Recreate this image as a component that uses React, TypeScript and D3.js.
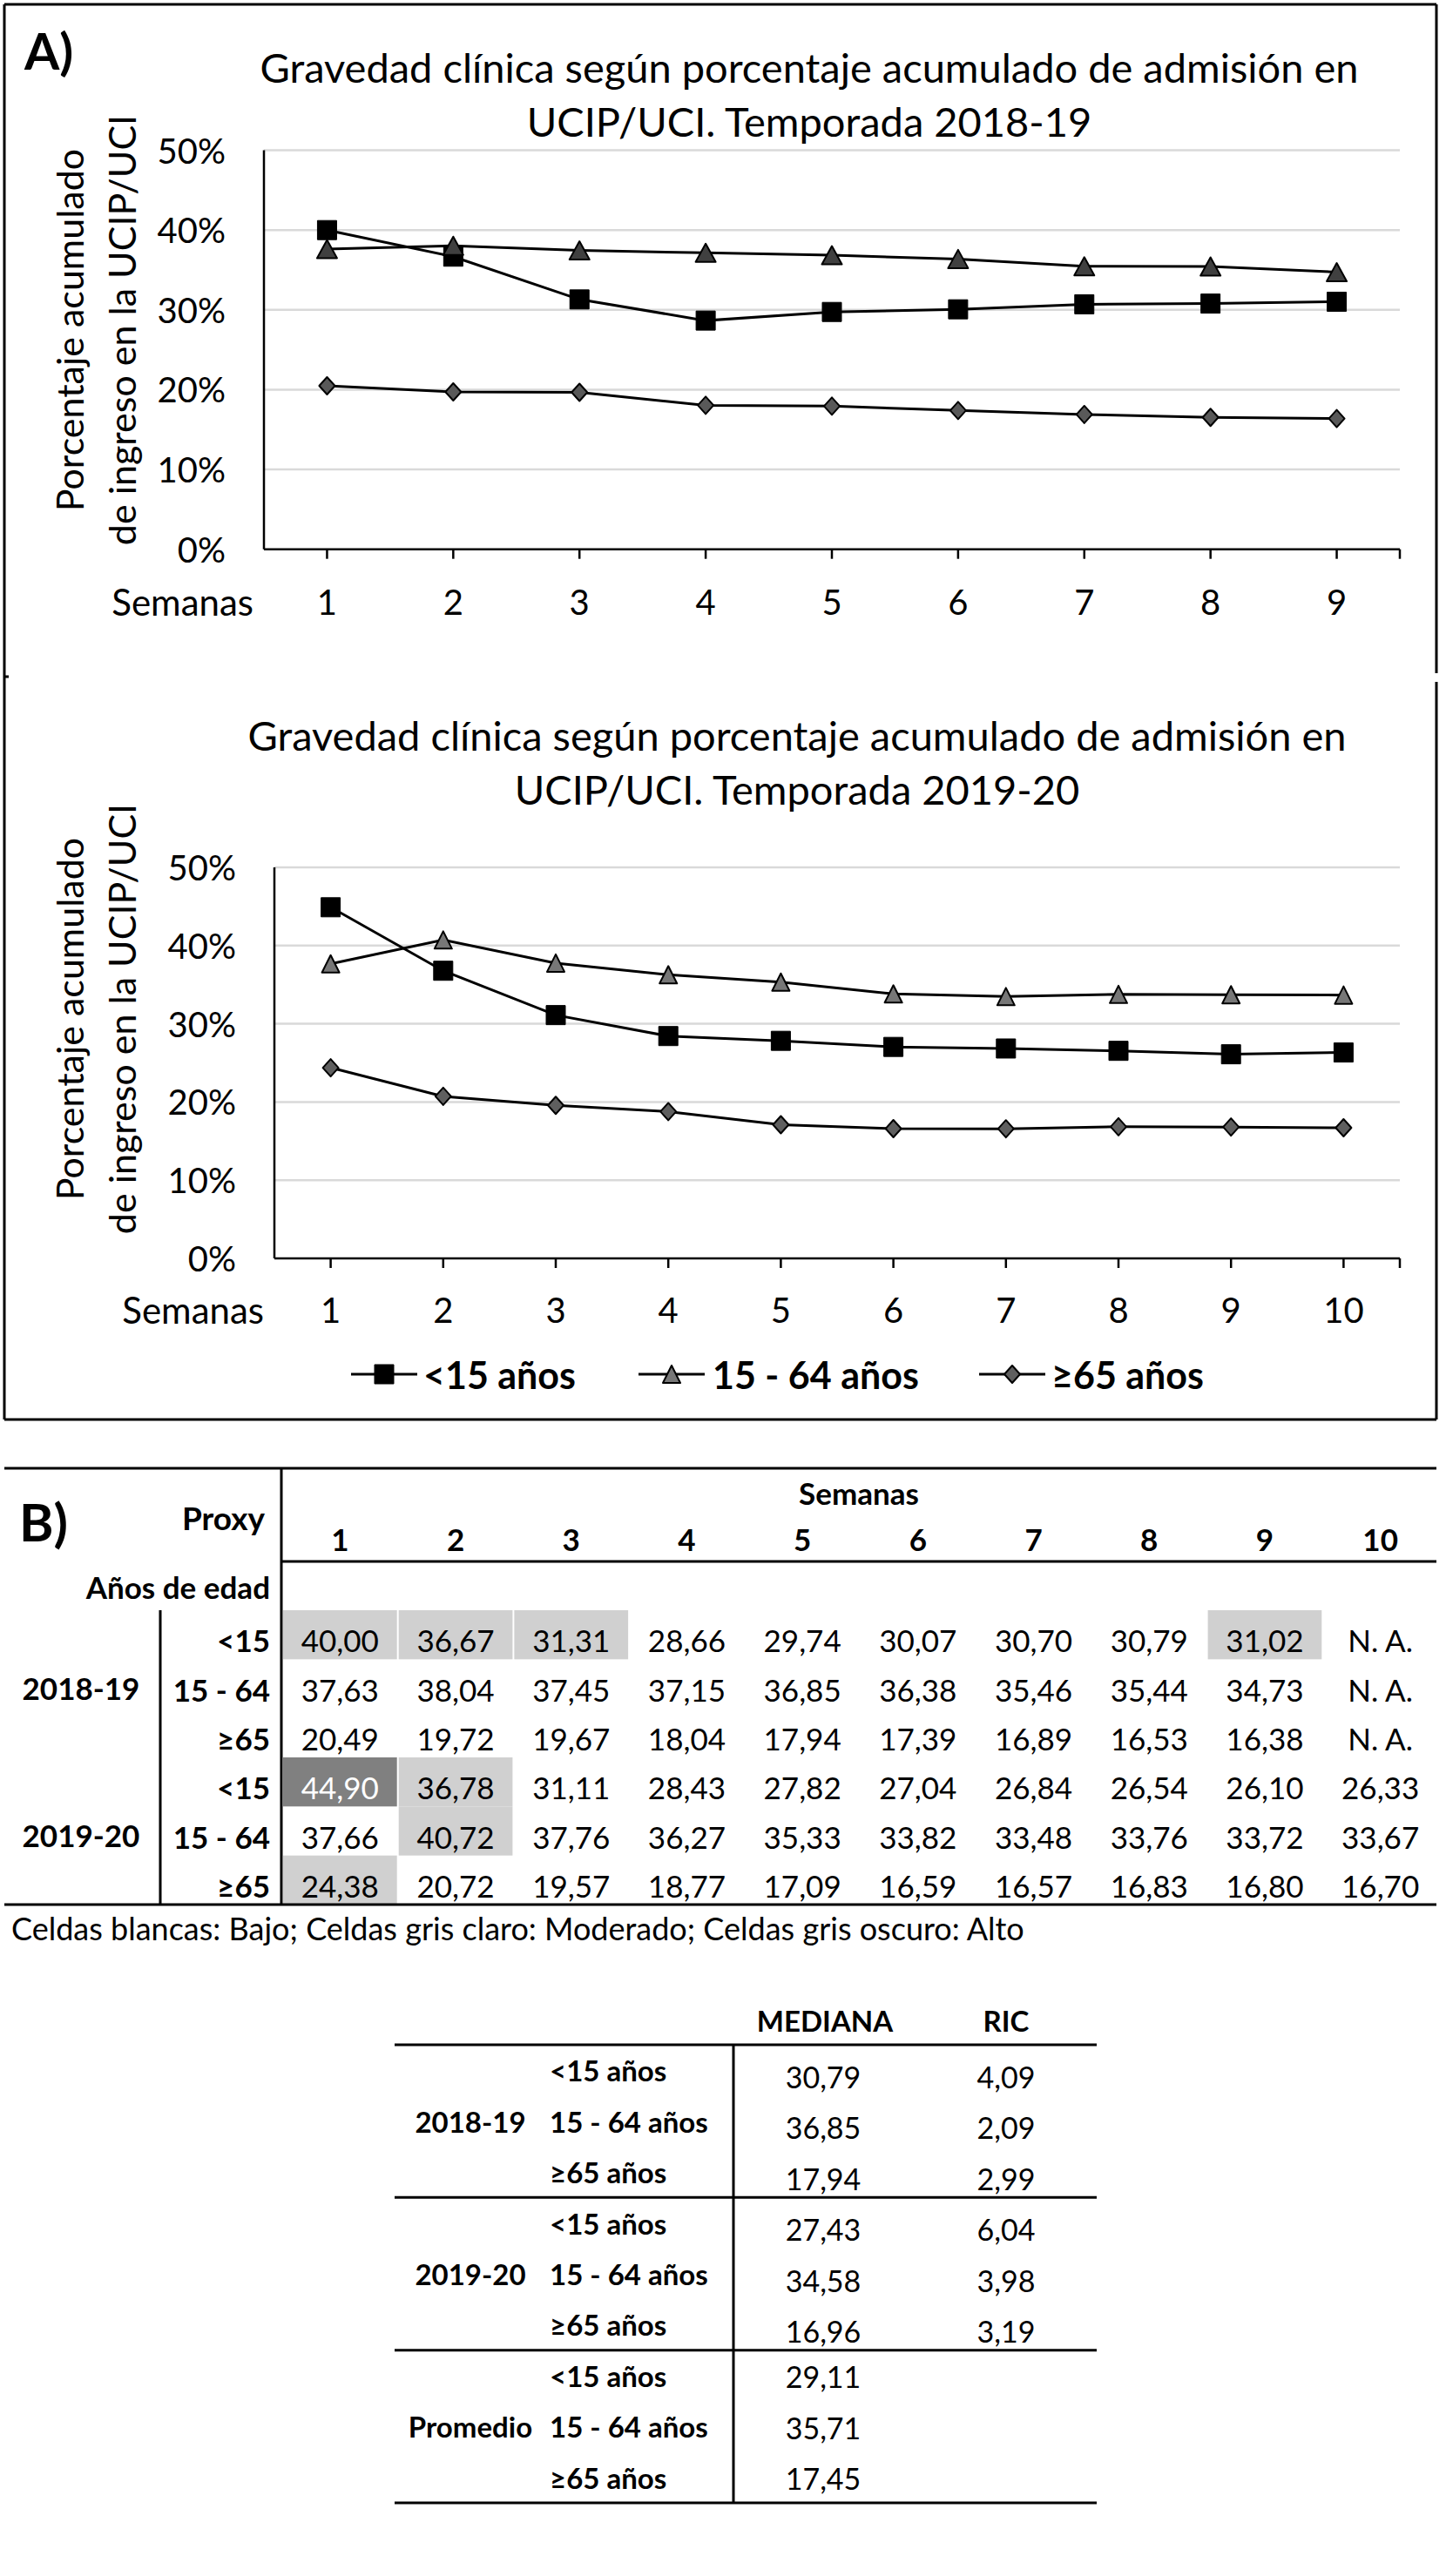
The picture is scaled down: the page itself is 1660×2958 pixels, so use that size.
import React from 'react';
import * as d3 from 'd3';

// chart series (same numbers as in table B)
const weeks1819 = [1, 2, 3, 4, 5, 6, 7, 8, 9];
const weeks1920 = [1, 2, 3, 4, 5, 6, 7, 8, 9, 10];
const tableWeeks = [1, 2, 3, 4, 5, 6, 7, 8, 9, 10];

const under15_1819 = [40.00, 36.67, 31.31, 28.66, 29.74, 30.07, 30.70, 30.79, 31.02];
const adults_1819 = [37.63, 38.04, 37.45, 37.15, 36.85, 36.38, 35.46, 35.44, 34.73];
const over65_1819 = [20.49, 19.72, 19.67, 18.04, 17.94, 17.39, 16.89, 16.53, 16.38];

const under15_1920 = [44.90, 36.78, 31.11, 28.43, 27.82, 27.04, 26.84, 26.54, 26.10, 26.33];
const adults_1920 = [37.66, 40.72, 37.76, 36.27, 35.33, 33.82, 33.48, 33.76, 33.72, 33.67];
const over65_1920 = [24.38, 20.72, 19.57, 18.77, 17.09, 16.59, 16.57, 16.83, 16.80, 16.70];

const seriesNames = ['<15 años', '15 - 64 años', '≥65 años'];
const yTicks = [0, 10, 20, 30, 40, 50];

// table B
const rowAgeLabels = ['<15', '15 - 64', '≥65', '<15', '15 - 64', '≥65'];
const seasonLabels = ['2018-19', '2019-20'];
// 0 blanco, 1 gris claro, 2 gris oscuro
const shadeLevels = [
    [1, 1, 1, 0, 0, 0, 0, 0, 1, 0],
    [0, 0, 0, 0, 0, 0, 0, 0, 0, 0],
    [0, 0, 0, 0, 0, 0, 0, 0, 0, 0],
    [2, 1, 0, 0, 0, 0, 0, 0, 0, 0],
    [0, 1, 0, 0, 0, 0, 0, 0, 0, 0],
    [1, 0, 0, 0, 0, 0, 0, 0, 0, 0],
];

// median table
const medianGroups = ['2018-19', '2019-20', 'Promedio'];
const medianValues = [30.79, 36.85, 17.94, 27.43, 34.58, 16.96, 29.11, 35.71, 17.45];
const ricValues: (number | null)[] = [4.09, 2.09, 2.99, 6.04, 3.98, 3.19, null, null, null];

const FONT = "Lato, 'Open Sans', sans-serif";
const fmt = (v: number) => d3.format('.2f')(v).replace('.', ',');

type Shape = 'square' | 'triangle' | 'diamond';
interface MarkerStyle { shape: Shape; fill: string; w: number; h: number; }

function markerPath(m: MarkerStyle, cx: number, cy: number) {
    const hw = m.w / 2, hh = m.h / 2;
    const p = d3.path();
    if (m.shape === 'square') {
        p.rect(cx - hw, cy - hh, m.w, m.h);
    } else if (m.shape === 'triangle') {
        p.moveTo(cx, cy - hh); p.lineTo(cx + hw, cy + hh); p.lineTo(cx - hw, cy + hh); p.closePath();
    } else {
        p.moveTo(cx, cy - hh); p.lineTo(cx + hw, cy); p.lineTo(cx, cy + hh); p.lineTo(cx - hw, cy); p.closePath();
    }
    return p.toString();
}

function Marker({ m, cx, cy }: { m: MarkerStyle; cx: number; cy: number }) {
    return <path d={markerPath(m, cx, cy)} fill={m.fill} stroke="#000" strokeWidth={m.shape === 'square' ? 1 : 2} strokeLinejoin="round" />;
}

interface ChartProps {
    titleLines: string[];
    titleX: number;
    titleYs: number[];
    weeks: number[];
    series: number[][];
    markers: MarkerStyle[];
    left: number; right: number; top: number; bottom: number;
    yLabelX: number;
    xLabelY: number;
    yTitleY: number;
    legendY?: number;
}

function LineChart(props: ChartProps) {
    const { titleLines, titleX, titleYs, weeks, series, markers, left, right, top, bottom, yLabelX, xLabelY, yTitleY, legendY } = props;
    const x = d3.scaleBand<number>().domain(weeks).range([left, right]);
    const cx = (w: number) => x(w)! + x.bandwidth() / 2;
    const y = d3.scaleLinear().domain([0, 50]).range([bottom, top]);
    const line = d3.line<number>().x((_, i) => cx(weeks[i])).y(d => y(d));

    const legendItems = [
        { lineX: 403, textX: 486 },
        { lineX: 733, textX: 818 },
        { lineX: 1124, textX: 1207 },
    ];

    return (
        <g fontFamily={FONT}>
            {titleLines.map((t, i) => (
                <text key={t} x={titleX} y={titleYs[i]} textAnchor="middle" dominantBaseline="central" fontSize={47} fill="#000">{t}</text>
            ))}
            <text transform={`translate(79,${yTitleY}) rotate(-90)`} textAnchor="middle" dominantBaseline="central" fontSize={43}>Porcentaje acumulado</text>
            <text transform={`translate(139,${yTitleY}) rotate(-90)`} textAnchor="middle" dominantBaseline="central" fontSize={43}>de ingreso en la UCIP/UCI</text>

            {yTicks.map(t => (
                <g key={t}>
                    {t > 0 && <line x1={left} x2={right} y1={y(t)} y2={y(t)} stroke="#d9d9d9" strokeWidth={2.5} />}
                    <text x={yLabelX} y={y(t)} textAnchor="end" dominantBaseline="central" fontSize={40}>{t}%</text>
                </g>
            ))}
            <line x1={left} x2={left} y1={top} y2={bottom} stroke="#000" strokeWidth={2.5} />
            <line x1={left} x2={right} y1={bottom} y2={bottom} stroke="#000" strokeWidth={2.5} />
            {weeks.map(w => (
                <g key={w}>
                    <line x1={cx(w)} x2={cx(w)} y1={bottom} y2={bottom + 11} stroke="#000" strokeWidth={2.5} />
                    <text x={cx(w)} y={xLabelY} textAnchor="middle" dominantBaseline="central" fontSize={40}>{w}</text>
                </g>
            ))}
            <line x1={right} x2={right} y1={bottom} y2={bottom + 11} stroke="#000" strokeWidth={2.5} />
            <text x={left - 12} y={xLabelY} textAnchor="end" dominantBaseline="central" fontSize={42}>Semanas</text>

            {series.map((s, si) => (
                <g key={si}>
                    <path d={line(s) || ''} fill="none" stroke="#000" strokeWidth={3} />
                    {s.map((v, i) => <Marker key={i} m={markers[si]} cx={cx(weeks[i])} cy={y(v)} />)}
                </g>
            ))}

            {legendY !== undefined && seriesNames.map((name, i) => (
                <g key={name}>
                    <line x1={legendItems[i].lineX} x2={legendItems[i].lineX + 76} y1={legendY} y2={legendY} stroke="#000" strokeWidth={3} />
                    <Marker m={markers[i]} cx={legendItems[i].lineX + 38} cy={legendY} />
                    <text x={legendItems[i].textX} y={legendY} dominantBaseline="central" fontSize={43} fontWeight="bold">{name}</text>
                </g>
            ))}
        </g>
    );
}

function TableB() {
    const col = d3.scaleBand<number>().domain(tableWeeks).range([324, 1651]);
    const row = d3.scaleBand<number>().domain(d3.range(rowAgeLabels.length)).range([1849, 2187]);
    const rows = [under15_1819, adults_1819, over65_1819, under15_1920, adults_1920, over65_1920];
    const shadeFill = ['none', '#d0d0d0', '#808080'];
    return (
        <g fontFamily={FONT} fontSize={35}>
            {rows.map((vals, ri) => tableWeeks.map((w, ci) => {
                const lvl = shadeLevels[ri][ci];
                return lvl > 0
                    ? <rect key={`s${ri}-${ci}`} x={col(w)! + 1} y={row(ri)!} width={col.bandwidth() - 2} height={row.bandwidth()} fill={shadeFill[lvl]} />
                    : null;
            }))}
            <line x1={5} x2={1649} y1={1686} y2={1686} stroke="#000" strokeWidth={3} />
            <line x1={323} x2={1649} y1={1793} y2={1793} stroke="#000" strokeWidth={3} />
            <line x1={5} x2={1649} y1={2187} y2={2187} stroke="#000" strokeWidth={3} />
            <line x1={323} x2={323} y1={1686} y2={2187} stroke="#000" strokeWidth={3} />
            <line x1={184} x2={184} y1={1849} y2={2187} stroke="#000" strokeWidth={3} />

            <text x={22} y={1747} dominantBaseline="central" fontSize={60} fontWeight="bold">B)</text>
            <text x={304} y={1742} textAnchor="end" dominantBaseline="central" fontWeight="bold" fontSize={37}>Proxy</text>
            <text x={986} y={1714} textAnchor="middle" dominantBaseline="central" fontWeight="bold">Semanas</text>
            {tableWeeks.map(w => (
                <text key={w} x={col(w)! + col.bandwidth() / 2} y={1767} textAnchor="middle" dominantBaseline="central" fontWeight="bold">{w}</text>
            ))}
            <text x={310} y={1822} textAnchor="end" dominantBaseline="central" fontWeight="bold">Años de edad</text>

            {rowAgeLabels.map((l, ri) => (
                <text key={ri} x={310} y={row(ri)! + row.bandwidth() / 2 + 6} textAnchor="end" dominantBaseline="central" fontWeight="bold">{l}</text>
            ))}
            {seasonLabels.map((s, i) => (
                <text key={s} x={93} y={row(i * 3 + 1)! + row.bandwidth() / 2 + 4} textAnchor="middle" dominantBaseline="central" fontWeight="bold">{s}</text>
            ))}
            {rows.map((vals, ri) => tableWeeks.map((w, ci) => (
                <text key={`${ri}-${ci}`} x={col(w)! + col.bandwidth() / 2} y={row(ri)! + row.bandwidth() / 2 + 6}
                    textAnchor="middle" dominantBaseline="central"
                    fill={shadeLevels[ri][ci] === 2 ? '#fff' : '#000'}>
                    {ci < vals.length ? fmt(vals[ci]) : 'N. A.'}
                </text>
            )))}
            <text x={13} y={2214} dominantBaseline="central" fontSize={36}>Celdas blancas: Bajo; Celdas gris claro: Moderado; Celdas gris oscuro: Alto</text>
        </g>
    );
}

function MedianTable() {
    const ageLabels = seriesNames;
    const row = d3.scaleBand<number>().domain(d3.range(medianValues.length)).range([2348, 2874]);
    const rowY = (i: number) => row(i)! + row.bandwidth() / 2;
    return (
        <g fontFamily={FONT} fontSize={33}>
            <text x={947} y={2320} textAnchor="middle" dominantBaseline="central" fontWeight="bold">MEDIANA</text>
            <text x={1155} y={2320} textAnchor="middle" dominantBaseline="central" fontWeight="bold">RIC</text>
            {[0, 3, 6, 9].map(i => {
                const yy = i === 9 ? 2874 : row(i)!;
                return <line key={i} x1={453} x2={1259} y1={yy} y2={yy} stroke="#000" strokeWidth={3} />;
            })}
            <line x1={842} x2={842} y1={2348} y2={2874} stroke="#000" strokeWidth={3} />
            {medianGroups.map((g, gi) => (
                <text key={g} x={540} y={rowY(gi * 3 + 1)} textAnchor="middle" dominantBaseline="central" fontWeight="bold">{g}</text>
            ))}
            {medianValues.map((v, i) => (
                <g key={i}>
                    <text x={631} y={rowY(i)} dominantBaseline="central" fontWeight="bold">{ageLabels[i % 3]}</text>
                    <text x={945} y={rowY(i) + (i < 6 ? 7 : 1)} textAnchor="middle" dominantBaseline="central" fontSize={34}>{fmt(v)}</text>
                    {ricValues[i] !== null && (
                        <text x={1155} y={rowY(i) + 7} textAnchor="middle" dominantBaseline="central" fontSize={34}>{fmt(ricValues[i] as number)}</text>
                    )}
                </g>
            ))}
        </g>
    );
}

const topMarkers: MarkerStyle[] = [
    { shape: 'square', fill: '#000', w: 22, h: 22 },
    { shape: 'triangle', fill: '#404040', w: 23, h: 21 },
    { shape: 'diamond', fill: '#595959', w: 18, h: 20 },
];
const bottomMarkers: MarkerStyle[] = [
    { shape: 'square', fill: '#000', w: 22, h: 22 },
    { shape: 'triangle', fill: '#777', w: 20, h: 20 },
    { shape: 'diamond', fill: '#5f5f5f', w: 18, h: 20 },
];

export default function App() {
    return (
        <svg width={1660} height={2958} viewBox="0 0 1660 2958"
            style={{ position: 'absolute', left: 0, top: 0, background: '#fff' }}>
            <rect width={1660} height={2958} fill="#fff" />
            {/* panel A frame */}
            <g stroke="#000" strokeWidth={3}>
                <line x1={5} x2={1649} y1={5} y2={5} />
                <line x1={5} x2={5} y1={5} y2={1630} />
                <line x1={1649} x2={1649} y1={5} y2={773} />
                <line x1={1649} x2={1649} y1={783} y2={1630} />
                <line x1={5} x2={1649} y1={1630} y2={1630} />
                <line x1={5} x2={10} y1={777} y2={777} />
            </g>
            <text x={28} y={57} dominantBaseline="central" fontFamily={FONT} fontSize={58} fontWeight="bold">A)</text>

            <LineChart
                titleLines={['Gravedad clínica según porcentaje acumulado de admisión en', 'UCIP/UCI. Temporada 2018-19']}
                titleX={929} titleYs={[77, 139]}
                weeks={weeks1819}
                series={[under15_1819, adults_1819, over65_1819]}
                markers={topMarkers}
                left={303} right={1607} top={172.6} bottom={630.7}
                yLabelX={259} xLabelY={691} yTitleY={379}
            />
            <LineChart
                titleLines={['Gravedad clínica según porcentaje acumulado de admisión en', 'UCIP/UCI. Temporada 2019-20']}
                titleX={915} titleYs={[844, 906]}
                weeks={weeks1920}
                series={[under15_1920, adults_1920, over65_1920]}
                markers={bottomMarkers}
                left={315} right={1607} top={996} bottom={1445}
                yLabelX={271} xLabelY={1504} yTitleY={1170}
                legendY={1578}
            />
            <TableB />
            <MedianTable />
        </svg>
    );
}
